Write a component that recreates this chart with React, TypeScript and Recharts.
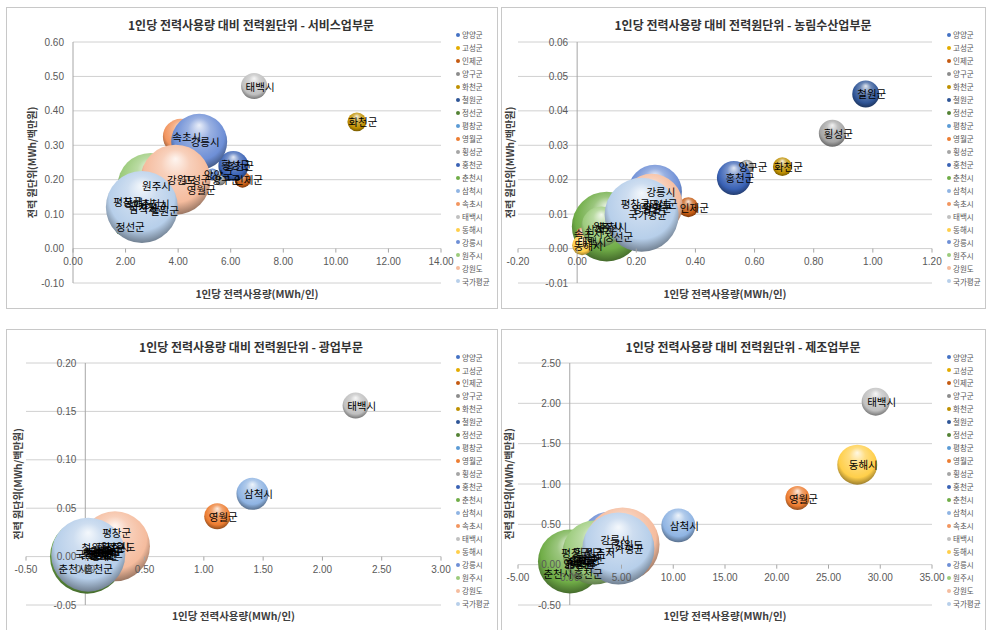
import React from 'react';
import { ScatterChart, Scatter, XAxis, YAxis, ZAxis, CartesianGrid, ReferenceLine, Legend, Label } from 'recharts';

const REGIONS = ['양양군', '고성군', '인제군', '양구군', '화천군', '철원군', '정선군', '평창군', '영월군', '횡성군', '홍천군', '춘천시', '삼척시', '속초시', '태백시', '동해시', '강릉시', '원주시', '강원도', '국가평균'];

const REGION_COLORS = ['#4472C4', '#E3AC00', '#C55A11', '#8C8C8C', '#BF9000', '#2F5597', '#548235', '#5B9BD5', '#ED7D31', '#A5A5A5', '#3A62B5', '#70AD47', '#8FB4E3', '#F2955F', '#C0C0C0', '#FFCF4A', '#6E8FD6', '#9CCB7C', '#F5BC9E', '#B7CFEA'];

// 서비스업부문
const SVC_X = [5.3, 4.45, 6.45, 5.6, 10.8, 3.25, 1.95, 1.85, 4.65, 5.95, 6.1, 2.9, 2.45, 4.1, 6.89, 2.25, 4.8, 2.95, 3.9, 2.62];
const SVC_Y = [0.215, 0.2, 0.2, 0.2, 0.368, 0.11, 0.065, 0.136, 0.173, 0.245, 0.24, 0.13, 0.115, 0.325, 0.472, 0.135, 0.31, 0.182, 0.2, 0.121];
const SVC_Z = [2.25, 2.5, 4, 2, 5.6, 4, 6.25, 2.25, 2.25, 2.25, 14, 49, 4, 20, 10.6, 4, 49, 68, 76.6, 81];
const SVC_X_TICKS = [0, 2, 4, 6, 8, 10, 12, 14];
const SVC_Y_TICKS = [-0.1, 0, 0.1, 0.2, 0.3, 0.4, 0.5, 0.6];

// 농림수산업부문
const AGR_X = [0.25, 0.27, 0.376, 0.574, 0.694, 0.976, 0.12, 0.176, 0.215, 0.863, 0.53, 0.1, 0.057, 0.018, 0.03, 0.017, 0.263, 0.082, 0.252, 0.218];
const AGR_Y = [0.012, 0.013, 0.012, 0.0238, 0.0238, 0.0449, 0.0035, 0.013, 0.0117, 0.0335, 0.0205, 0.0064, 0.0054, 0.0044, 0.002, 0.001, 0.0165, 0.0064, 0.0127, 0.0098];
const AGR_Z = [2.25, 2.25, 6.25, 3, 5.6, 11.4, 3, 3, 3, 11.4, 18, 76, 3, 2.25, 1.6, 6.25, 45.6, 25, 60, 85.6];
const AGR_X_TICKS = [-0.2, 0, 0.2, 0.4, 0.6, 0.8, 1.0, 1.2];
const AGR_Y_TICKS = [-0.01, 0, 0.01, 0.02, 0.03, 0.04, 0.05, 0.06];

// 광업부문
const MIN_X = [0.1, 0.15, 0.08, 0.12, 0.05, 0.04, 0.06, 0.214, 1.113, 0.16, 0.06, 0.015, 1.41, 0.03, 2.28, 0.09, 0.12, 0.2, 0.25, 0.025];
const MIN_Y = [0.002, 0.004, 0.003, 0.001, 0.003, 0.009, 0.005, 0.025, 0.0416, 0.0096, 0, 0, 0.0648, 0.001, 0.156, 0.004, 0.006, 0.01, 0.0106, 0.002];
const MIN_Z = [2, 2, 2, 2, 2, 2, 4, 4, 10.6, 3, 2, 86, 16, 2, 10.6, 3, 6, 6, 76.6, 85.6];
const MIN_X_TICKS = [-0.5, 0, 0.5, 1.0, 1.5, 2.0, 2.5, 3.0];
const MIN_Y_TICKS = [-0.05, 0, 0.05, 0.1, 0.15, 0.2];

// 제조업부문
const MFG_X = [0.5, 0.3, 0.8, 0.2, 0.6, 1.0, 1.5, 0, 22.0, 1.2, 1.2, 0.02, 10.49, 0.4, 29.56, 27.78, 3.8, 2.4, 5.1, 4.7];
const MFG_Y = [0.02, 0.01, 0.05, 0.02, 0.04, 0.06, 0.08, 0.145, 0.826, 0.145, 0, 0.04, 0.487, 0.03, 2.02, 1.24, 0.31, 0.15, 0.25, 0.2];
const MFG_Z = [2, 2, 3, 2, 2, 3, 3, 3, 9, 4, 3, 64, 18, 2, 12.25, 25, 49, 64, 85.6, 81];
const MFG_X_TICKS = [-5, 0, 5, 10, 15, 20, 25, 30, 35];
const MFG_Y_TICKS = [-0.5, 0, 0.5, 1.0, 1.5, 2.0, 2.5];

const X_TITLE = '1인당 전력사용량(MWh/인)';
const Y_TITLE = '전력 원단위(MWh/백만원)';

const KR = "'Noto Sans CJK KR', 'Noto Sans', sans-serif";
const NUM = "'Liberation Sans', Arial, sans-serif";

function mix(hex: string, other: string, t: number) {
  const a = parseInt(hex.slice(1), 16);
  const b = parseInt(other.slice(1), 16);
  const ch = (s: number) => Math.round(((a >> s) & 255) * (1 - t) + ((b >> s) & 255) * t);
  return '#' + ((1 << 24) | (ch(16) << 16) | (ch(8) << 8) | ch(0)).toString(16).slice(1);
}

const bubbleShape = (panelKey: string) => (props: any) => {
  const { cx, cy, payload } = props;
  const r = props.width ? props.width / 2 : Math.sqrt((props.size || 0) / Math.PI);
  const c = REGION_COLORS[payload.idx];
  const id = `bub-${panelKey}-${payload.idx}`;
  return (
    <g>
      <defs>
        <radialGradient id={id} cx="50%" cy="42%" r="58%" fx="50%" fy="20%">
          <stop offset="0%" stopColor={mix(c, '#FFFFFF', 0.85)} />
          <stop offset="35%" stopColor={mix(c, '#FFFFFF', 0.3)} />
          <stop offset="78%" stopColor={c} />
          <stop offset="100%" stopColor={mix(c, '#000000', 0.38)} />
        </radialGradient>
      </defs>
      <circle cx={cx} cy={cy} r={r} fill={`url(#${id})`} />
    </g>
  );
};

const labelShape = (nudges: Record<string, number[]>) => (props: any) => {
  const { cx, cy, payload } = props;
  const n = nudges[payload.name] || [0, 0];
  return (
    <text x={cx + 6 + n[0]} y={cy + n[1]} textAnchor="middle" dominantBaseline="central" fontSize={10.5} fill="#000" fontFamily={KR}>
      {payload.name}
    </text>
  );
};

const makeXTick = (shift: number) => (props: any) => {
  const { x, y, payload } = props;
  const y0 = y + shift;
  return (
    <g>
      <line x1={x} x2={x} y1={y0} y2={y0 + 4} stroke="#A6A6A6" />
      <text x={x} y={y0 + 16} textAnchor="middle" fontSize={10} fill="#595959" fontFamily={NUM}>
        {Number(payload.value).toFixed(2)}
      </text>
    </g>
  );
};

const makeYTick = (shift: number) => (props: any) => {
  const { x, y, payload } = props;
  return (
    <text x={x + shift - 9} y={y + 3.5} textAnchor="end" fontSize={10} fill="#595959" fontFamily={NUM}>
      {Number(payload.value).toFixed(2)}
    </text>
  );
};

const renderLegend = () => (
  <div style={{ width: 60 }}>
    {REGIONS.map((n, i) => (
      <div key={n} style={{ height: 12.97, display: 'flex', alignItems: 'center', whiteSpace: 'nowrap' }}>
        <span style={{ display: 'inline-block', width: 4, height: 4, borderRadius: 2, background: REGION_COLORS[i], marginRight: 2 }} />
        <span style={{ fontSize: 7.5, color: '#595959', fontFamily: KR, lineHeight: 1 }}>{n}</span>
      </div>
    ))}
  </div>
);

type Cfg = {
  key: string; title: string; xs: number[]; ys: number[]; zs: number[];
  xDomain: number[]; yDomain: number[]; xTicks: number[]; yTicks: number[];
  left: number; top: number; width: number; height: number;
  margin: { top: number; right: number; bottom: number; left: number };
  yAxisW: number; xAxisH: number; xTitleOffset: number; yTitleOffset: number;
  legendLeft: number; legendTop: number; titleX: number; titleY: number;
  border: number[]; nudges: Record<string, number[]>;
};

const PANELS: Cfg[] = [
  {
    key: 'svc', title: '1인당 전력사용량 대비 전력원단위 - 서비스업부문', xs: SVC_X, ys: SVC_Y, zs: SVC_Z,
    xDomain: [0, 14], yDomain: [-0.1, 0.6], xTicks: SVC_X_TICKS, yTicks: SVC_Y_TICKS,
    left: 0, top: 0, width: 493, height: 315, margin: { top: 42, right: 52, bottom: 0, left: 0 },
    yAxisW: 73, xAxisH: 32, xTitleOffset: 17, yTitleOffset: 32, legendLeft: 456, legendTop: 28.5,
    titleX: 251, titleY: 24, border: [6, 7, 492, 302], nudges: {},
  },
  {
    key: 'agr', title: '1인당 전력사용량 대비 전력원단위 - 농림수산업부문', xs: AGR_X, ys: AGR_Y, zs: AGR_Z,
    xDomain: [-0.2, 1.2], yDomain: [-0.01, 0.06], xTicks: AGR_X_TICKS, yTicks: AGR_Y_TICKS,
    left: 494, top: 0, width: 493, height: 315, margin: { top: 42, right: 55, bottom: 0, left: 0 },
    yAxisW: 24, xAxisH: 32, xTitleOffset: 17, yTitleOffset: 16, legendLeft: 453, legendTop: 28.5,
    titleX: 249, titleY: 24, border: [7, 7, 485, 302], nudges: {},
  },
  {
    key: 'min', title: '1인당 전력사용량 대비 전력원단위 - 광업부문', xs: MIN_X, ys: MIN_Y, zs: MIN_Z,
    xDomain: [-0.5, 3.0], yDomain: [-0.05, 0.2], xTicks: MIN_X_TICKS, yTicks: MIN_Y_TICKS,
    left: 0, top: 320, width: 493, height: 310, margin: { top: 43, right: 52, bottom: 0, left: 0 },
    yAxisW: 26, xAxisH: 25, xTitleOffset: 10, yTitleOffset: 18, legendLeft: 456, legendTop: 30.8,
    titleX: 251, titleY: 26, border: [6, 9, 492, 320], nudges: { '춘천시': [-20, 12], '홍천군': [0, 12] },
  },
  {
    key: 'mfg', title: '1인당 전력사용량 대비 전력원단위 - 제조업부문', xs: MFG_X, ys: MFG_Y, zs: MFG_Z,
    xDomain: [-5, 35], yDomain: [-0.5, 2.5], xTicks: MFG_X_TICKS, yTicks: MFG_Y_TICKS,
    left: 494, top: 320, width: 493, height: 310, margin: { top: 43, right: 55, bottom: 0, left: 0 },
    yAxisW: 24, xAxisH: 25, xTitleOffset: 10, yTitleOffset: 15, legendLeft: 453, legendTop: 30.8,
    titleX: 249, titleY: 26, border: [7, 9, 485, 320], nudges: { '춘천시': [-18, 12], '홍천군': [0, 9] },
  },
];

function BubblePanel({ cfg }: { cfg: Cfg }) {
  const data = REGIONS.map((name, i) => ({ name, idx: i, x: cfg.xs[i], y: cfg.ys[i], z: cfg.zs[i] }));
  const plotW = cfg.width - cfg.margin.left - cfg.margin.right - cfg.yAxisW;
  const plotH = cfg.height - cfg.margin.top - cfg.margin.bottom - cfg.xAxisH;
  const xShift = ((0 - cfg.xDomain[0]) / (cfg.xDomain[1] - cfg.xDomain[0])) * plotW;
  const yShift = -((0 - cfg.yDomain[0]) / (cfg.yDomain[1] - cfg.yDomain[0])) * plotH;
  const [bx, by, bw, bh] = cfg.border;
  return (
    <div style={{ position: 'absolute', left: cfg.left, top: cfg.top, width: cfg.width, height: cfg.height }}>
      <div style={{ position: 'absolute', left: bx, top: by, width: bw, height: bh, border: '1px solid #C8C8C8', boxSizing: 'border-box' }} />
      <ScatterChart width={cfg.width} height={cfg.height} margin={cfg.margin}>
        <CartesianGrid horizontal vertical={false} stroke="#D0D0D0" />
        <ZAxis type="number" dataKey="z" domain={[0, 100]} range={[0, Math.PI * 1600]} />
        {data.map((d) => (
          <Scatter key={d.name} name={d.name} data={[d]} fill={REGION_COLORS[d.idx]} shape={bubbleShape(cfg.key)} isAnimationActive={false} />
        ))}
        <ReferenceLine x={0} stroke="#A6A6A6" />
        <XAxis type="number" dataKey="x" domain={cfg.xDomain} ticks={cfg.xTicks} interval={0} axisLine={false} tickLine={false} tickSize={0} tickMargin={0} height={cfg.xAxisH} tick={makeXTick(yShift)}>
          <Label value={X_TITLE} position="insideBottom" offset={cfg.xTitleOffset} style={{ fontSize: 10.5, fontWeight: 700, fill: '#404040', fontFamily: KR }} />
        </XAxis>
        <YAxis type="number" dataKey="y" domain={cfg.yDomain} ticks={cfg.yTicks} interval={0} axisLine={false} tickLine={false} tickSize={0} tickMargin={0} width={cfg.yAxisW} tick={makeYTick(xShift)}>
          <Label value={Y_TITLE} angle={-90} position="insideLeft" offset={cfg.yTitleOffset} style={{ textAnchor: 'middle', fontSize: 10, fontWeight: 700, fill: '#404040', fontFamily: KR }} />
        </YAxis>
        <Scatter name="labels" data={data} shape={labelShape(cfg.nudges)} legendType="none" isAnimationActive={false} />
        <Legend layout="vertical" align="right" verticalAlign="top" content={renderLegend}
          wrapperStyle={{ left: cfg.legendLeft, top: cfg.legendTop, right: 'auto', bottom: 'auto', width: 0, height: 0, overflow: 'visible' }} />
      </ScatterChart>
      <div style={{ position: 'absolute', left: cfg.titleX, top: cfg.titleY, transform: 'translate(-50%, -50%)', whiteSpace: 'nowrap', fontSize: 12, fontWeight: 700, color: '#333333', fontFamily: KR, pointerEvents: 'none' }}>
        {cfg.title}
      </div>
    </div>
  );
}

export default function App() {
  return (
    <div style={{ position: 'absolute', left: 0, top: 0, width: 987, height: 630, overflow: 'hidden', background: '#FFFFFF' }}>
      {PANELS.map((p) => (
        <BubblePanel key={p.key} cfg={p} />
      ))}
    </div>
  );
}
